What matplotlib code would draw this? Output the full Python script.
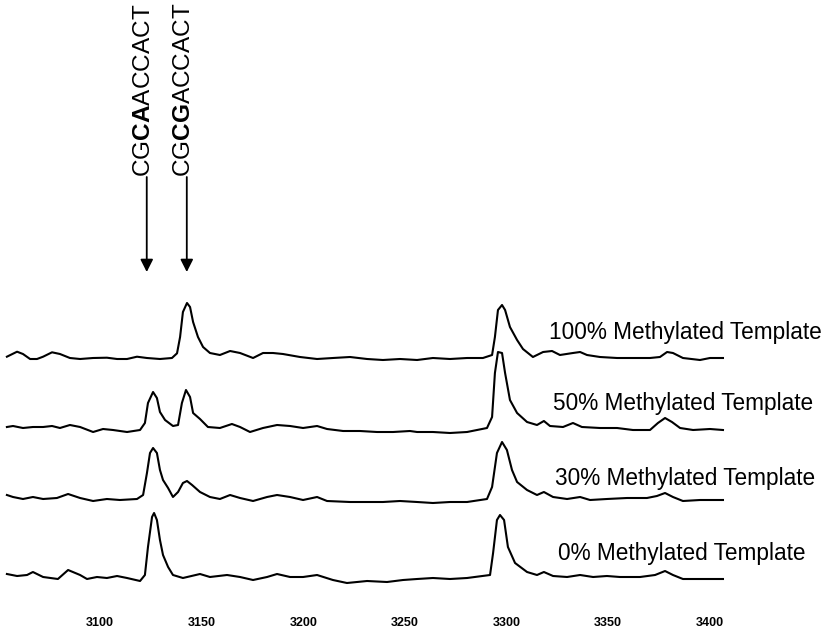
import matplotlib
matplotlib.use("Agg")
import matplotlib.pyplot as plt
import matplotlib.transforms as mtransforms

plt.rcParams['font.family'] = ['Liberation Sans', 'DejaVu Sans']
plt.rcParams['mathtext.fontset'] = 'custom'
plt.rcParams['mathtext.rm'] = 'Liberation Sans'
plt.rcParams['mathtext.bf'] = 'Liberation Sans:bold'

# ---- data (mass m/z, relative intensity) ----
mass_100 = [3054.2, 3059.2, 3062.1, 3065.6, 3069.0, 3072.0, 3076.4, 3080.3, 3085.2, 3090.2,
            3096.6, 3103.4, 3108.4, 3113.3, 3118.2, 3123.1, 3129.5, 3135.4, 3137.9, 3139.4,
            3140.8, 3142.8, 3144.3, 3145.8, 3148.2, 3150.7, 3154.1, 3159.0, 3164.0, 3168.9,
            3175.3, 3180.2, 3185.1, 3190.0, 3198.4, 3206.8, 3214.6, 3223.0, 3231.4, 3239.2,
            3247.6, 3256.0, 3263.8, 3272.2, 3280.6, 3288.4, 3292.9, 3294.3, 3295.8, 3297.8,
            3299.3, 3301.7, 3305.2, 3308.1, 3313.0, 3318.0, 3322.4, 3326.3, 3332.7, 3336.2,
            3339.6, 3346.0, 3354.4, 3362.2, 3370.6, 3375.5, 3379.0, 3381.9, 3386.8, 3395.2,
            3400.1, 3406.5]
int_100 = [1.3, 6.3, 4, -1, -1, 1.3, 5.7, 4, 0, -1,
           0, 0.3, -1, -1, 1.3, 0, -1, 0, 4.7, 21,
           46, 55, 51, 36, 21, 11, 5, 3, 7, 5,
           0, 5, 5, 4, 1, -1, 0, 1, -1, -2,
           -1, -2, 0, -1, 0, 0, 3, 21, 48, 53,
           48, 31, 18, 9, 1, 6, 7, 3, 5, 6,
           3, 1, 0, 0, 0, 1, 6, 5, 0, -2,
           0, 0]

mass_50 = [3054.2, 3057.2, 3062.1, 3067.0, 3072.0, 3076.4, 3080.3, 3085.2, 3090.2, 3096.6,
           3101.5, 3106.4, 3113.3, 3119.7, 3122.1, 3123.6, 3126.1, 3128.0, 3129.5, 3132.0,
           3135.9, 3138.4, 3140.3, 3142.3, 3144.3, 3145.8, 3149.2, 3153.1, 3159.0, 3164.9,
           3168.9, 3173.8, 3180.2, 3187.1, 3193.5, 3199.9, 3206.8, 3211.7, 3219.6, 3227.9,
           3236.3, 3244.2, 3252.5, 3256.0, 3263.8, 3272.2, 3280.6, 3290.4, 3292.9, 3294.3,
           3295.8, 3297.8, 3299.3, 3301.7, 3305.2, 3310.1, 3315.0, 3318.4, 3321.4, 3327.8,
           3332.7, 3337.1, 3346.0, 3354.4, 3362.2, 3370.6, 3374.5, 3378.0, 3381.4, 3385.4,
           3391.8, 3400.1, 3406.5]
int_50 = [2, 3, 1, 2, 2, 3, 1, 4, 2, -3,
          0, -1, -3, -1, 6, 26, 37, 31, 17, 9,
          3, 4, 26, 39, 32, 16, 10, 2, 1, 5,
          2, -3, 1, 4, 3, 1, 3, 0, -2, -2,
          -3, -3, -2, -3, -3, -4, -3, 1, 12, 56,
          77, 76, 56, 29, 16, 7, 4, 8, 3, 2,
          6, 2, 1, 1, -1, -1, 6, 11, 7, 1,
          -1, 0, -1]

mass_30 = [3054.2, 3057.2, 3062.1, 3067.0, 3072.0, 3078.8, 3084.3, 3090.2, 3096.6, 3103.4,
           3109.8, 3118.2, 3121.2, 3123.1, 3124.6, 3126.1, 3128.0, 3129.5, 3131.0, 3133.5,
           3135.9, 3138.4, 3140.8, 3142.8, 3145.3, 3149.2, 3154.1, 3159.0, 3164.0, 3168.9,
           3175.3, 3182.2, 3187.1, 3193.5, 3199.9, 3206.8, 3211.7, 3223.0, 3231.4, 3239.2,
           3247.6, 3256.0, 3263.8, 3272.2, 3280.6, 3290.4, 3292.9, 3295.3, 3297.8, 3300.2,
           3302.7, 3305.2, 3310.1, 3315.0, 3318.4, 3322.9, 3329.8, 3336.2, 3341.1, 3349.4,
           3359.3, 3369.1, 3374.0, 3378.0, 3381.9, 3386.8, 3395.2, 3406.5]
int_30 = [6, 4, 2, 4, 2, 3, 7, 3, 0, 2,
          1, 2, 6, 28, 48, 53, 48, 31, 21, 13,
          4, 9, 18, 20, 16, 9, 4, 2, 6, 3,
          0, 4, 6, 4, 1, 4, 0, -1, -1, -1,
          0, -1, -2, -1, -1, 2, 14, 48, 59, 51,
          31, 19, 11, 6, 9, 4, 2, 4, 1, 2,
          3, 3, 5, 8, 4, 0, 1, 1]

mass_0 = [3054.2, 3059.2, 3064.1, 3067.0, 3072.0, 3079.3, 3084.3, 3090.2, 3093.6, 3098.5,
          3103.4, 3108.4, 3113.3, 3119.7, 3122.1, 3123.6, 3125.6, 3126.6, 3128.0, 3129.5,
          3131.0, 3133.5, 3135.9, 3140.8, 3149.2, 3154.1, 3162.5, 3168.9, 3175.3, 3182.2,
          3187.1, 3193.5, 3199.9, 3206.8, 3214.6, 3221.5, 3231.4, 3241.2, 3249.1, 3256.0,
          3263.8, 3272.2, 3280.6, 3291.9, 3293.4, 3295.3, 3296.8, 3298.8, 3300.7, 3304.2,
          3310.1, 3315.0, 3318.4, 3322.9, 3329.8, 3336.2, 3342.6, 3349.4, 3355.8, 3365.7,
          3373.1, 3378.0, 3381.9, 3386.8, 3395.2, 3406.5]
int_0 = [3, 1, 2, 5, 0, -2, 7, 2, -2, 0,
         -1, 1, -1, -4, 2, 30, 60, 64, 57, 37,
         22, 10, 2, -1, 3, 0, 2, 0, -3, 0,
         3, 0, 0, 2, -3, -6, -4, -5, -3, -2,
         -1, -2, -1, 2, 24, 57, 62, 57, 30, 14,
         5, 2, 5, 1, 0, 2, 0, 1, 0, 0,
         2, 6, 2, -2, -2, -2]

labels = ["100% Methylated Template", "50% Methylated Template",
          "30% Methylated Template", "0% Methylated Template"]
tick_values = [3100, 3150, 3200, 3250, 3300, 3350, 3400]
arrow_mass = [3123.0, 3142.7]
sequences = [r"CG$\mathbf{CA}$ACCACT", r"CG$\mathbf{CG}$ACCACT"]

# ---- layout ----
W, H = 831, 633
fig = plt.figure(figsize=(W / 100, H / 100), dpi=100)
bottom_px = 25
ax = fig.add_axes([0, bottom_px / H, 1, 1 - bottom_px / H])
x0 = 3100 - 100 * 0.492
x1 = 3100 + (W - 100) * 0.492
ax.set_xlim(x0, x1)
ax.set_ylim(bottom_px, H)

offsets = [275, 204, 132, 56]
label_x = [549, 553, 555, 558]
label_y = [294, 223, 148, 73]
series = [(mass_100, int_100), (mass_50, int_50), (mass_30, int_30), (mass_0, int_0)]
blend = mtransforms.blended_transform_factory(ax.transAxes, ax.transData)

for (m, v), off, lab, lx, ly in zip(series, offsets, labels, label_x, label_y):
    ax.plot(m, [off + val for val in v], color='black', lw=1.5, solid_joinstyle='round')
    ax.text(lx / W, ly, lab, transform=blend,
            ha='left', va='baseline', fontsize=16.3, color='black')

for am, seq in zip(arrow_mass, sequences):
    ax.annotate('', xy=(am, 361), xytext=(am, 456),
                arrowprops=dict(arrowstyle='-|>,head_length=0.75,head_width=0.38',
                                color='black', lw=1.3, shrinkA=0, shrinkB=0))
    ax.text(am - 1.5, 456, seq, rotation=90, ha='center', va='bottom',
            fontsize=17.6, color='black')

for s in ax.spines.values():
    s.set_visible(False)
ax.set_yticks([])
ax.set_xticks(tick_values)
ax.set_xticklabels([str(t) for t in tick_values], fontsize=9, fontweight='bold')
ax.tick_params(axis='x', length=0, pad=6.5)

fig.savefig("out.png", dpi=100)
